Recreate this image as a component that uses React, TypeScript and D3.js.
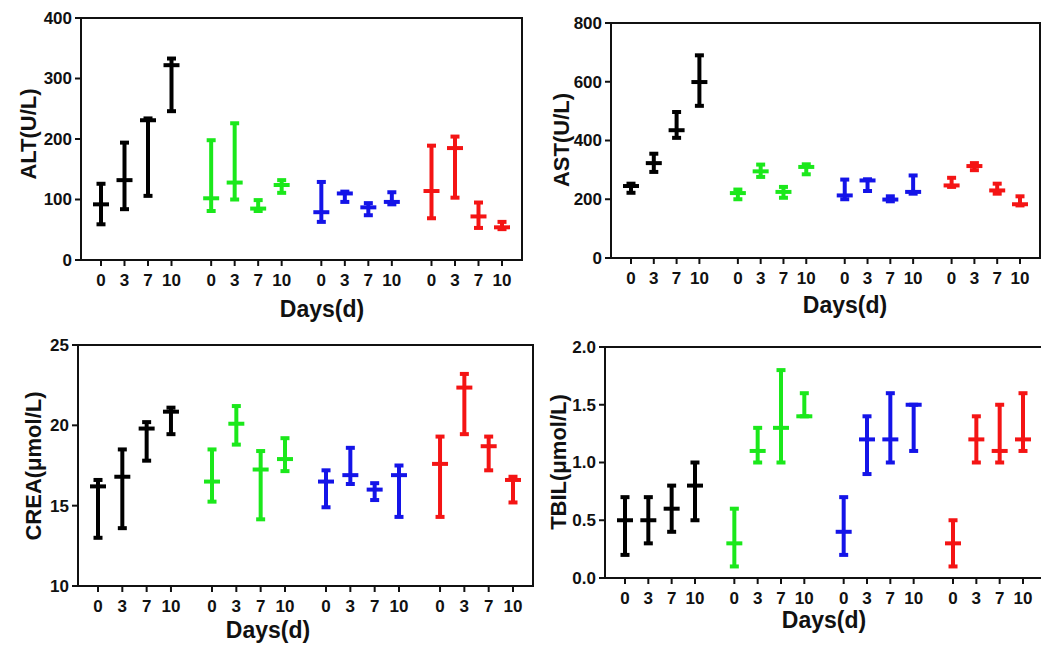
import React from 'react';
import * as d3 from 'd3';

// sampling days and the four treatment groups
const days = ['0', '3', '7', '10'];
const groupIds = ['g1', 'g2', 'g3', 'g4'];
const groupColors = ['#000000', '#1be81b', '#1414e8', '#f41414'];

// ALT (U/L): mean, lower and upper error per group x day
const altMean = [[92, 132, 231, 322], [102, 128, 85, 124], [79, 110, 87, 96], [114, 185, 72, 54]];
const altLow = [[59, 84, 106, 246], [81, 100, 81, 111], [63, 96, 74, 92], [69, 103, 53, 51]];
const altHigh = [[126, 194, 234, 333], [198, 226, 99, 132], [129, 113, 94, 112], [189, 204, 95, 63]];

// AST (U/L)
const astMean = [[245, 323, 435, 599], [221, 295, 225, 310], [213, 264, 199, 225], [247, 313, 230, 183]];
const astLow = [[222, 293, 409, 518], [200, 276, 205, 285], [200, 228, 193, 219], [242, 299, 219, 179]];
const astHigh = [[253, 355, 497, 690], [233, 318, 242, 319], [267, 268, 210, 281], [273, 323, 253, 210]];

// CREA (umol/L)
const creaMean = [[16.2, 16.8, 19.8, 20.85], [16.5, 20.1, 17.25, 17.9], [16.5, 16.9, 16.0, 16.9], [17.6, 22.35, 18.7, 16.6]];
const creaLow = [[13.0, 13.6, 17.8, 19.45], [15.25, 18.8, 14.15, 17.15], [14.9, 16.35, 15.35, 14.3], [14.3, 19.45, 17.2, 15.2]];
const creaHigh = [[16.6, 18.5, 20.2, 21.1], [18.5, 21.2, 18.4, 19.2], [17.2, 18.6, 16.4, 17.5], [19.3, 23.2, 19.3, 16.8]];

// TBIL (umol/L)
const tbilMean = [[0.5, 0.5, 0.6, 0.8], [0.3, 1.1, 1.3, 1.4], [0.4, 1.2, 1.2, 1.5], [0.3, 1.2, 1.1, 1.2]];
const tbilLow = [[0.2, 0.3, 0.4, 0.5], [0.1, 1.0, 1.0, 1.4], [0.2, 0.9, 1.0, 1.1], [0.1, 1.0, 1.0, 1.1]];
const tbilHigh = [[0.7, 0.7, 0.8, 1.0], [0.6, 1.3, 1.8, 1.6], [0.7, 1.4, 1.6, 1.5], [0.5, 1.4, 1.5, 1.6]];

const FONT = '"Liberation Sans", Arial, sans-serif';

type PanelDef = {
  title: string;
  mean: number[][];
  low: number[][];
  high: number[][];
  domain: [number, number];
  ticks: number[];
  fmt: (v: number) => string;
  left: number; right: number; top: number; bottom: number;
  titleX: number; titleY: number; xTitleX: number; xTitleDy: number;
};

const panels: PanelDef[] = [
  { title: 'ALT(U/L)', mean: altMean, low: altLow, high: altHigh, domain: [0, 400], ticks: [0, 100, 200, 300, 400], fmt: d3.format('d'),
    left: 81, right: 522, top: 18, bottom: 260, titleX: 28, titleY: 134, xTitleX: 322, xTitleDy: 57 },
  { title: 'AST(U/L)', mean: astMean, low: astLow, high: astHigh, domain: [0, 800], ticks: [0, 200, 400, 600, 800], fmt: d3.format('d'),
    left: 611, right: 1040, top: 23, bottom: 258, titleX: 561, titleY: 140, xTitleX: 845, xTitleDy: 55 },
  { title: 'CREA(μmol/L)', mean: creaMean, low: creaLow, high: creaHigh, domain: [10, 25], ticks: [10, 15, 20, 25], fmt: d3.format('d'),
    left: 78, right: 533, top: 345, bottom: 586, titleX: 33, titleY: 466, xTitleX: 268, xTitleDy: 52 },
  { title: 'TBIL(μmol/L)', mean: tbilMean, low: tbilLow, high: tbilHigh, domain: [0, 2], ticks: [0, 0.5, 1, 1.5, 2], fmt: d3.format('.1f'),
    left: 605, right: 1043, top: 347, bottom: 578, titleX: 558, titleY: 462, xTitleX: 824, xTitleDy: 50 },
];

const ErrorPanel = ({ p }: { p: PanelDef }) => {
  const y = d3.scaleLinear().domain(p.domain).range([p.bottom, p.top]);
  const gx = d3.scaleBand().domain(groupIds).range([p.left + 20, p.right - 20]).paddingInner(0.36).paddingOuter(0);
  const dx = d3.scalePoint().domain(days).range([0, gx.bandwidth()]);
  const xAt = (g: number, d: number) => (gx(groupIds[g]) as number) + (dx(days[d]) as number);

  return (
    <g>
      {/* frame */}
      <path d={`M${p.left},${p.bottom}V${p.top}H${p.right}V${p.bottom}Z`} fill="none" stroke="#111" strokeWidth={2} />

      {/* y axis */}
      {p.ticks.map(t => (
        <g key={t}>
          <line x1={p.left - 6} x2={p.left} y1={y(t)} y2={y(t)} stroke="#111" strokeWidth={2} />
          <text x={p.left - 9} y={y(t)} dy="0.35em" textAnchor="end" fontFamily={FONT} fontWeight="bold" fontSize={17} fill="#111">
            {p.fmt(t)}
          </text>
        </g>
      ))}
      <text transform={`translate(${p.titleX},${p.titleY}) rotate(-90)`} dy="0.35em" textAnchor="middle"
        fontFamily={FONT} fontWeight="bold" fontSize={22} fill="#111">{p.title}</text>

      {/* x axis */}
      {groupIds.map((_, g) => days.map((d, j) => (
        <g key={`${g}-${d}`}>
          <line x1={xAt(g, j)} x2={xAt(g, j)} y1={p.bottom} y2={p.bottom + 6} stroke="#111" strokeWidth={2} />
          <text x={xAt(g, j)} y={p.bottom + 26} textAnchor="middle" fontFamily={FONT} fontWeight="bold" fontSize={17} fill="#111">{d}</text>
        </g>
      )))}
      <text x={p.xTitleX} y={p.bottom + p.xTitleDy} textAnchor="middle" fontFamily={FONT} fontWeight="bold" fontSize={23} fill="#111">Days(d)</text>

      {/* error bars */}
      {groupIds.map((_, g) => days.map((d, j) => {
        const cx = xAt(g, j);
        const c = groupColors[g];
        const yl = y(p.low[g][j]);
        const yh = y(p.high[g][j]);
        const ym = y(p.mean[g][j]);
        return (
          <g key={`e${g}-${d}`} stroke={c} fill="none">
            <line x1={cx} x2={cx} y1={yl} y2={yh} strokeWidth={4} />
            <line x1={cx - 4.5} x2={cx + 4.5} y1={yl} y2={yl} strokeWidth={4} />
            <line x1={cx - 4.5} x2={cx + 4.5} y1={yh} y2={yh} strokeWidth={4} />
            <line x1={cx - 8} x2={cx + 8} y1={ym} y2={ym} strokeWidth={4} />
          </g>
        );
      }))}
    </g>
  );
};

export default function App() {
  return (
    <svg width={1041} height={651} style={{ position: 'absolute', left: 0, top: 0, background: '#fff' }}>
      <rect width={1041} height={651} fill="#fff" />
      {panels.map(p => <ErrorPanel key={p.title} p={p} />)}
    </svg>
  );
}
